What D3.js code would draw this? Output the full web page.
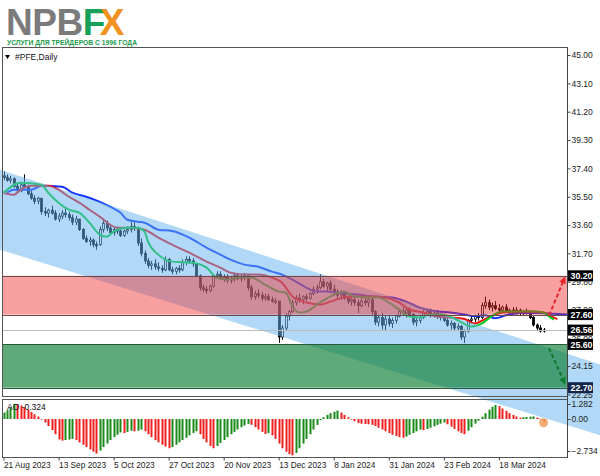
<!DOCTYPE html>
<html><head><meta charset="utf-8">
<script src="https://cdn.jsdelivr.net/npm/d3@7"></script>
<style>body{margin:0;background:#fff;}svg{display:block;font-family:"Liberation Sans",Arial,sans-serif;}</style>
</head><body><svg id="c" width="600" height="476"></svg>
<script>
// ---------- DATA ----------
const tickIndex = [0,16,32,48,64,80,96,112,128,144];
const tickLabels = ["21 Aug 2023","13 Sep 2023","5 Oct 2023","27 Oct 2023","20 Nov 2023","13 Dec 2023","8 Jan 2024","31 Jan 2024","23 Feb 2024","18 Mar 2024"];
const priceTicks = [45.00,43.10,41.20,39.30,37.40,35.50,33.60,31.70,29.80,27.90,26.00,24.15,22.25];
const aoTicks = [1.282,0.00,-2.734];
const open = [36.9,36.8,36.6,36.7,36.2,35.9,36.3,36.2,35.7,35.4,35.2,35.4,34.5,34.4,34.6,34.4,34.0,34.2,34.4,34.3,34.1,33.8,34.0,33.3,32.7,32.5,32.6,32.3,32.3,33.3,33.7,33.4,33.1,33.3,33.2,32.9,33.2,33.3,33.5,33.4,32.4,31.7,31.2,30.9,31.0,30.8,30.7,30.6,31.3,30.6,30.5,30.7,30.6,31.1,31.3,31.2,31.0,30.2,29.4,29.3,29.2,29.5,30.2,30.3,30.0,30.1,29.9,30.0,30.2,30.0,30.1,30.2,29.4,28.8,29.0,28.9,28.7,28.8,28.6,28.5,28.5,26.1,26.7,27.5,27.8,28.4,28.7,28.6,28.8,28.7,29.0,29.3,29.4,29.8,29.5,29.7,29.3,29.1,28.9,29.0,28.7,28.5,28.6,28.4,28.2,28.5,28.4,28.6,27.8,27.1,27.4,26.9,27.3,27.0,27.2,27.5,27.8,27.7,27.9,27.6,27.1,27.2,27.4,27.7,27.8,27.6,27.7,27.5,27.4,27.2,26.9,27.0,26.7,26.8,26.1,26.5,27.2,27.3,27.5,27.4,28.2,28.4,28.1,28.2,28.0,27.9,28.1,27.8,27.9,27.7,27.9,27.7,27.8,27.7,27.4,26.9,26.7,26.5];
const high = [37.2,37.0,36.9,36.8,36.4,36.5,37.0,36.3,35.9,35.6,35.5,35.4,34.8,34.7,34.9,34.6,34.4,34.6,34.7,34.5,34.3,34.2,34.0,33.4,32.9,32.8,32.7,32.5,33.5,34.0,33.9,33.6,33.4,33.5,33.4,33.3,33.5,33.8,33.8,33.5,32.7,31.9,31.4,31.2,31.3,31.1,30.9,31.5,31.4,30.8,30.8,30.9,31.3,31.5,31.5,31.4,31.0,30.3,29.6,29.5,29.6,30.3,30.5,30.5,30.3,30.3,30.2,30.4,30.4,30.3,30.4,30.2,29.6,29.2,29.3,29.1,29.0,29.0,28.8,28.7,28.5,26.9,27.7,27.9,28.6,28.9,29.0,28.9,29.0,29.1,29.5,29.6,30.3,30.0,29.8,29.9,29.6,29.3,29.2,29.1,28.9,28.8,28.8,28.6,28.7,28.8,28.7,28.7,27.9,27.6,27.7,27.5,27.5,27.4,27.6,28.0,28.1,28.0,28.1,27.7,27.4,27.6,27.9,28.0,28.0,27.9,27.9,27.7,27.6,27.4,27.2,27.1,27.0,26.9,26.6,27.3,27.5,27.6,27.7,28.4,28.8,28.6,28.4,28.5,28.3,28.2,28.3,28.0,28.1,28.1,28.0,27.9,28.0,27.8,27.5,27.0,26.9,26.7];
const low = [36.6,36.5,36.4,36.1,35.8,35.8,36.1,35.6,35.3,35.0,35.0,34.3,34.2,34.1,34.3,33.9,33.8,34.0,34.1,33.9,33.6,33.6,33.2,32.6,32.4,32.2,32.1,31.95,32.2,33.1,33.2,33.0,32.9,33.0,32.8,32.8,33.0,33.1,33.2,32.2,31.5,31.0,30.7,30.6,30.6,30.5,30.4,30.5,30.5,30.3,30.3,30.4,30.5,30.9,31.0,30.8,30.1,29.2,29.1,29.0,29.1,29.4,30.0,29.9,29.8,29.7,29.7,29.8,29.9,29.8,29.9,29.2,28.6,28.6,28.7,28.5,28.5,28.5,28.4,28.3,25.7,25.9,26.5,27.2,27.7,28.2,28.4,28.3,28.5,28.6,28.9,29.0,29.3,29.4,29.1,29.2,28.9,28.7,28.6,28.6,28.3,28.2,28.2,27.7,28.1,28.2,28.1,27.6,26.9,26.8,26.6,26.5,26.8,26.7,27.0,27.4,27.5,27.4,27.5,26.9,26.8,27.0,27.3,27.5,27.4,27.4,27.3,27.2,27.1,26.8,26.6,26.5,26.5,25.9,25.7,26.4,27.0,27.1,27.2,27.3,28.0,27.9,27.8,27.9,27.7,27.7,27.7,27.6,27.6,27.6,27.5,27.5,27.6,27.3,26.8,26.5,26.4,26.4];
const close = [36.8,36.6,36.7,36.2,35.9,36.3,36.2,35.7,35.4,35.2,35.4,34.5,34.4,34.6,34.4,34.0,34.2,34.4,34.3,34.1,33.8,34.0,33.3,32.7,32.5,32.6,32.3,32.2,33.3,33.7,33.4,33.1,33.3,33.2,32.9,33.2,33.3,33.5,33.4,32.4,31.7,31.2,30.9,31.0,30.8,30.7,30.6,31.3,30.6,30.5,30.7,30.6,31.1,31.3,31.2,31.0,30.2,29.4,29.3,29.2,29.5,30.2,30.3,30.0,30.1,29.9,30.0,30.2,30.0,30.1,30.2,29.4,28.8,29.0,28.9,28.7,28.8,28.6,28.5,28.5,26.1,26.7,27.5,27.8,28.4,28.7,28.6,28.8,28.7,29.0,29.3,29.4,29.8,29.5,29.7,29.3,29.1,28.9,29.0,28.7,28.5,28.6,28.4,28.2,28.5,28.4,28.6,27.8,27.1,27.4,26.9,27.3,27.0,27.2,27.5,27.8,27.7,27.9,27.6,27.1,27.2,27.4,27.7,27.8,27.6,27.7,27.5,27.4,27.2,26.9,27.0,26.7,26.8,26.1,26.5,27.2,27.3,27.5,27.4,28.2,28.4,28.1,28.2,28.0,27.9,28.1,27.8,27.9,27.7,27.9,27.7,27.8,27.7,27.4,26.9,26.7,26.5,26.56];
const ao = [0.55,0.75,1.0,1.3,1.25,1.15,1.0,0.8,0.6,0.4,0.2,0.0,-0.3,-0.6,-0.95,-1.3,-1.75,-1.85,-1.8,-1.75,-1.7,-1.8,-2.0,-2.2,-2.4,-2.6,-2.8,-2.95,-2.7,-2.4,-2.1,-1.8,-1.55,-1.35,-1.15,-1.2,-1.1,-1.0,-1.05,-1.0,-0.9,-1.05,-1.3,-1.55,-1.8,-2.0,-2.2,-2.35,-2.5,-2.4,-2.2,-2.0,-1.8,-1.6,-1.4,-1.2,-1.05,-1.3,-1.7,-2.0,-2.3,-2.5,-2.3,-2.05,-1.8,-1.55,-1.3,-1.1,-0.9,-0.7,-0.55,-0.42,-0.5,-0.7,-0.9,-1.1,-1.28,-1.2,-1.4,-1.7,-2.1,-2.5,-2.8,-3.0,-3.1,-2.9,-2.5,-2.1,-1.7,-1.3,-0.9,-0.5,-0.1,0.15,0.35,0.5,0.62,0.72,0.55,0.35,0.15,0.0,-0.2,-0.35,-0.4,-0.42,-0.45,-0.5,-0.6,-0.75,-0.9,-1.05,-1.2,-1.35,-1.45,-1.55,-1.6,-1.5,-1.35,-1.2,-1.05,-0.9,-0.95,-0.85,-0.75,-0.62,-0.5,-0.4,-0.3,-0.45,-0.65,-0.85,-1.05,-1.2,-1.3,-1.0,-0.7,-0.4,-0.15,0.2,0.5,0.8,1.05,1.2,1.1,0.9,0.7,0.5,0.35,0.22,0.12,0.15,0.18,0.2,0.22,0.12,0.02,-0.324];
const jaw = [[1,35.77],[3,35.97],[8,35.97],[11,36.23],[17,36.17],[20,35.77],[24,35.5],[28,35.16],[31,34.83],[34,34.43],[36,33.96],[39,33.83],[41,33.76],[45,33.29],[49,33.2],[54,32.76],[59,32.09],[63,31.62],[66,31.28],[70,30.95],[74,30.81],[78,30.48],[81,30.28],[84,29.94],[88,29.41],[91,29.14],[94,29.14],[97,29.08],[103,28.94],[108,28.81],[113,28.74],[117,28.47],[121,28.07],[126,27.8],[130,27.74],[134,27.6],[137,27.5],[140,27.55],[143,27.35],[146,27.55],[150,27.7],[155,27.7],[160,27.65],[164,27.6]];
const teeth = [[0,35.77],[3,35.63],[5,35.97],[8,36.23],[13,36.23],[16,35.97],[19,35.5],[22,35.1],[25,34.63],[28,34.16],[31,33.62],[33,33.42],[37,33.42],[41,33.29],[45,32.76],[49,32.29],[54,31.75],[59,31.15],[63,30.75],[66,30.41],[70,30.28],[74,30.28],[78,30.08],[81,29.74],[84,28.81],[88,28.41],[92,28.27],[95,28.47],[99,28.74],[103,28.81],[107,28.81],[111,28.74],[115,28.41],[118,27.94],[122,27.74],[126,27.47],[130,27.4],[134,27.3],[137,27.0],[140,27.3],[145,27.74],[149,27.8],[153,27.8],[157,27.74],[159,27.5],[161,27.3]];
const lips = [[0,35.77],[5,36.44],[11,36.3],[13,35.77],[16,35.1],[19,34.63],[22,34.43],[25,33.76],[28,32.96],[30,32.82],[32,33.16],[36,33.42],[39,33.42],[41,33.16],[42,32.49],[45,31.62],[49,31.15],[55,31.08],[59,30.75],[62,30.08],[65,29.94],[68,30.08],[72,30.08],[76,29.61],[80,29.14],[82,29.08],[84,28.14],[86,27.74],[88,27.8],[92,28.41],[95,28.81],[99,29.14],[102,28.81],[106,28.74],[109,28.74],[112,28.41],[115,27.94],[118,27.47],[121,27.4],[124,27.6],[127,27.6],[130,27.45],[133,27.1],[136,26.8],[139,27.0],[142,27.5],[145,27.8],[150,27.8],[154,27.8],[157,27.74],[159,27.4],[160,27.27]];
const channelTop = [[-1.02,37.31],[173.4,24.26]];
const channelBottom = [[-1.02,31.95],[173.4,19.51]];
const resistanceZone = [30.20, 27.60];
const supportZone = [25.60, 22.70];
const bidPrice = 26.56;
const arrowUp = [[158.6,27.55],[163.1,30.05]];
const arrowDown = [[158.6,25.35],[163.1,23.0]];
const aoLabel = "AO -0.324";

// ---------- LAYOUT ----------
const L=2, R=567, T=47, B=396, IT=399, IB=457;
const svg = d3.select("#c");
const x = d3.scaleLinear().domain([0,163]).range([3.5, 3.5+163*3.44]);
const y = d3.scaleLinear().domain([22.25,45]).range([394.4,55]);
const ya = d3.scaleLinear().domain([-2.734,1.282]).range([451,404]);

const defs = svg.append("defs");
defs.append("clipPath").attr("id","mainClip").append("rect").attr("x",L).attr("y",T).attr("width",R-L).attr("height",B-T);
defs.append("clipPath").attr("id","indClip").append("rect").attr("x",L).attr("y",IT).attr("width",R-L).attr("height",IB-IT);
function marker(id,color){
  defs.append("marker").attr("id",id).attr("viewBox","0 0 10 10").attr("refX",8).attr("refY",5)
    .attr("markerWidth",3.4).attr("markerHeight",3.4).attr("orient","auto")
    .append("path").attr("d","M0,0L10,5L0,10Z").attr("fill",color);
}
marker("mRed","#e8242a"); marker("mGreen","#0e7a2c");

svg.append("rect").attr("width",600).attr("height",476).attr("fill","#fff");

// ---------- candles ----------
const gMain = svg.append("g").attr("clip-path","url(#mainClip)");
const idx = d3.range(close.length);
gMain.selectAll("line.wick").data(idx).join("line")
  .attr("x1",i=>Math.round(x(i))+0.5).attr("x2",i=>Math.round(x(i))+0.5)
  .attr("y1",i=>y(high[i])).attr("y2",i=>y(low[i]))
  .attr("stroke","#000").attr("stroke-width",1);
gMain.selectAll("rect.body").data(idx).join("rect")
  .attr("x",i=>Math.round(x(i))-0.5).attr("width",2)
  .attr("y",i=>y(Math.max(open[i],close[i])))
  .attr("height",i=>Math.max(1,Math.abs(y(open[i])-y(close[i]))))
  .attr("fill",i=>close[i]>=open[i]?"#fff":"#000")
  .attr("stroke","#000").attr("stroke-width",0.8);

// ---------- alligator lines ----------
const line = d3.line().x(d=>x(d[0])).y(d=>y(d[1])).curve(d3.curveMonotoneX);
[[jaw,"#1030ff"],[teeth,"#ee1010"],[lips,"#00cc20"]].forEach(([d,c])=>{
  gMain.append("path").attr("d",line(d)).attr("fill","none").attr("stroke",c).attr("stroke-width",2);
});

// ---------- AO panel ----------
const gInd = svg.append("g").attr("clip-path","url(#indClip)");
gInd.selectAll("rect.ao").data(idx).join("rect")
  .attr("x",i=>Math.round(x(i))-0.5).attr("width",2)
  .attr("y",i=>Math.min(ya(0),ya(ao[i])))
  .attr("height",i=>Math.max(0.6,Math.abs(ya(ao[i])-ya(0))))
  .attr("fill",i=>(i===0||ao[i]>ao[i-1])?"#1a8a1a":"#f02020");
const last = close.length-1;
svg.append("circle").attr("cx",x(last)).attr("cy",ya(ao[last])).attr("r",4.5)
  .attr("fill","#f4a060").attr("opacity",0.85);
svg.append("text").attr("x",7).attr("y",410).attr("font-size",8.5).attr("fill","#111").text(aoLabel);

// ---------- blue channel ----------
const chan = channelTop.concat(channelBottom.slice().reverse());
svg.append("path").attr("d",d3.line().x(d=>x(d[0])).y(d=>y(d[1]))(chan)+"Z")
  .attr("fill","rgb(100,180,240)").attr("fill-opacity",0.5);

// ---------- zones ----------
svg.append("rect").attr("x",L).attr("width",R-L)
  .attr("y",y(resistanceZone[0])).attr("height",y(resistanceZone[1])-y(resistanceZone[0]))
  .attr("fill","rgb(239,44,44)").attr("fill-opacity",0.45);
svg.append("rect").attr("x",L).attr("width",R-L)
  .attr("y",y(supportZone[0])).attr("height",y(supportZone[1])-y(supportZone[0]))
  .attr("fill","rgb(9,124,47)").attr("fill-opacity",0.65);
resistanceZone.forEach(p=>svg.append("line").attr("x1",L).attr("x2",R).attr("y1",Math.round(y(p))+0.5).attr("y2",Math.round(y(p))+0.5).attr("stroke","#6a4a4a").attr("stroke-width",1.2));
supportZone.forEach(p=>svg.append("line").attr("x1",L).attr("x2",R).attr("y1",Math.round(y(p))+0.5).attr("y2",Math.round(y(p))+0.5).attr("stroke","#2a5a3a").attr("stroke-width",1.2));
svg.append("line").attr("x1",L).attr("x2",R).attr("y1",Math.round(y(bidPrice))+0.5).attr("y2",Math.round(y(bidPrice))+0.5).attr("stroke","#bbb").attr("stroke-width",1);

// ---------- arrows ----------
[[arrowUp,"#e8242a","mRed"],[arrowDown,"#0e7a2c","mGreen"]].forEach(([a,c,m])=>{
  svg.append("line").attr("x1",x(a[0][0])).attr("y1",y(a[0][1])).attr("x2",x(a[1][0])).attr("y2",y(a[1][1]))
    .attr("stroke",c).attr("stroke-width",2).attr("stroke-dasharray","4,2.5").attr("marker-end",`url(#${m})`);
});

// ---------- frames ----------
svg.append("rect").attr("x",L+0.5).attr("y",T+0.5).attr("width",R-L).attr("height",B-T).attr("fill","none").attr("stroke","#555");
svg.append("rect").attr("x",L+0.5).attr("y",IT+0.5).attr("width",R-L).attr("height",IB-IT).attr("fill","none").attr("stroke","#555");

// ---------- axes ----------
const axPrice = svg.append("g").attr("transform",`translate(${R+0.5},0)`)
  .call(d3.axisRight(y).tickValues(priceTicks).tickSize(3).tickPadding(1).tickFormat(d3.format(".2f")));
const axAo = svg.append("g").attr("transform",`translate(${R+0.5},0)`)
  .call(d3.axisRight(ya).tickValues(aoTicks).tickSize(3).tickPadding(1).tickFormat(d=>d===0?"0.00":d3.format(".3f")(d)));
const axDate = svg.append("g").attr("transform",`translate(0,${IB+0.5})`)
  .call(d3.axisBottom(x).tickValues(tickIndex).tickSize(3).tickPadding(2).tickFormat((d,i)=>tickLabels[i]));
[axPrice,axAo,axDate].forEach(g=>{
  g.select(".domain").remove();
  g.selectAll("line").attr("stroke","#444");
  g.selectAll("text").attr("font-family","Liberation Sans, Arial, sans-serif").attr("font-size",8.5).attr("fill","#222");
});
axDate.selectAll("text").attr("text-anchor","start").attr("font-size",8.3);
svg.append("line").attr("x1",R+0.5).attr("x2",R+0.5).attr("y1",T).attr("y2",IB+1).attr("stroke","#444");

// ---------- price labels boxes ----------
const boxes = [[resistanceZone[0],"#000"],[resistanceZone[1],"#000"],[bidPrice,"#000"],[supportZone[0],"#000"],[supportZone[1],"#14264a"]];
boxes.forEach(([p,c])=>{
  const yy = y(p);
  svg.append("rect").attr("x",R+1).attr("y",yy-5.5).attr("width",25).attr("height",11).attr("fill",c);
  svg.append("text").attr("x",R+3.5).attr("y",yy+3.3).attr("font-size",8.8).attr("font-weight","bold").attr("fill","#fff").text(p.toFixed(2));
});

// ---------- header ----------
svg.append("path").attr("d","M5,55 L10,55 L7.5,59 Z").attr("fill","#000");
svg.append("text").attr("x",15).attr("y",60).attr("font-size",8.5).attr("fill","#111").text("#PFE,Daily");

const logo = svg.append("text").attr("x",6).attr("y",34.5).attr("font-size",37).attr("font-weight","bold")
  .attr("font-family","Liberation Sans, Arial, sans-serif").attr("letter-spacing",-0.5);
logo.append("tspan").attr("fill","#7b7b7b").text("NPB");
logo.append("tspan").attr("fill","#17a05a").text("F");
logo.append("tspan").attr("fill","#f29222").attr("dx",-5).text("X");
svg.append("text").attr("x",7).attr("y",45).attr("font-size",8).attr("font-weight","bold").attr("fill","#1a9a4a")
  .attr("textLength",130).attr("lengthAdjust","spacingAndGlyphs").text("УСЛУГИ ДЛЯ ТРЕЙДЕРОВ С 1996 ГОДА");
</script></body></html>
